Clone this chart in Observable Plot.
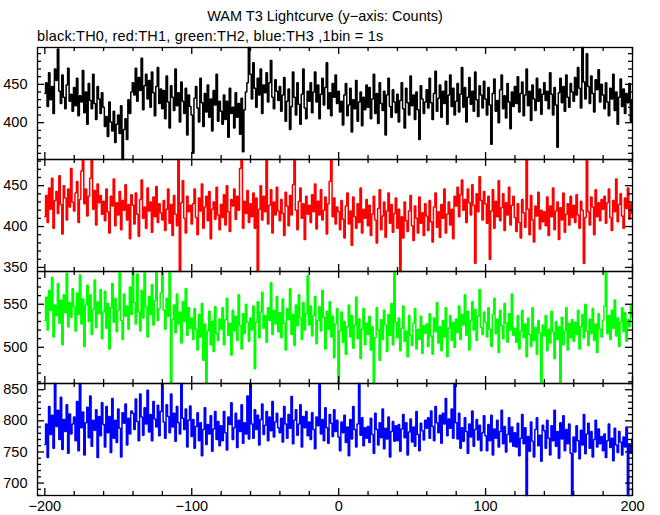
<!DOCTYPE html>
<html><head><meta charset="utf-8">
<script src="https://cdn.jsdelivr.net/npm/d3@7"></script>
<script src="https://cdn.jsdelivr.net/npm/@observablehq/plot@0.6"></script>
<style>
body{margin:0;background:#fff;}
#root{position:relative;width:660px;height:515px;font-family:"Liberation Sans",Arial,sans-serif;color:#000;}
.title{position:absolute;left:0;width:650px;top:9px;text-align:center;font-size:14.5px;line-height:1;}
.sub{position:absolute;left:37px;top:29px;font-size:14.5px;line-height:1;letter-spacing:0.2px;}
.panel{position:absolute;left:0;}
</style></head><body>
<div id="root">
<div class="title">WAM T3 Lightcurve (y−axis: Counts)</div>
<div class="sub">black:TH0, red:TH1, green:TH2, blue:TH3 ,1bin = 1s</div>
</div>
<script>
// time of first bin (s), 1 bin = 1 s
const tStart = -200;
const xTickLabels = [-200, -100, 0, 100, 200];
const th0Ticks = [400, 450];
const th1Ticks = [350, 400, 450];
const th2Ticks = [500, 550];
const th3Ticks = [700, 750, 800, 850];
const seriesColors = ["#000000", "#ff0000", "#00ff00", "#0000ff"];

const th0 = [
438,452,421,465,430,447,412,470,455,496,441,425,462,433,418,449,471,428,437,415,
446,422,458,409,435,427,468,413,440,398,451,429,418,463,425,404,447,431,412,439,
420,395,408,382,427,401,389,415,374,398,410,386,422,352,391,405,378,430,412,440,
452,436,471,428,459,442,484,417,448,463,431,455,420,466,439,409,447,472,425,444,
418,442,405,461,427,393,448,433,416,470,422,439,401,453,428,412,445,384,436,421,
410,360,432,447,419,401,458,426,395,438,414,449,407,431,389,442,423,463,402,428,
415,398,436,404,428,381,445,412,420,393,439,407,425,385,432,362,417,440,452,498,
463,431,478,445,420,458,436,470,412,449,439,465,427,452,481,433,418,456,441,429,
447,415,436,459,402,428,444,391,421,466,433,410,452,424,398,437,470,419,405,441,
428,452,413,440,466,427,449,405,437,458,423,446,478,418,439,409,451,433,462,425,
441,414,428,397,436,451,409,423,445,388,430,418,455,402,427,440,396,433,417,449,
420,446,405,431,463,412,438,399,452,425,416,441,384,436,458,421,407,443,427,413,
437,401,429,452,418,393,445,426,410,461,422,436,404,440,417,378,448,431,412,427,
443,419,458,426,404,438,467,415,432,449,407,441,425,454,398,436,462,421,445,410,
428,451,414,437,472,420,446,401,433,459,424,441,415,466,430,408,448,436,419,454,
431,410,446,423,372,438,457,415,429,400,443,462,418,435,406,451,427,392,440,421,
447,425,460,414,438,453,409,436,470,422,441,403,449,431,416,458,428,444,411,437,
452,429,441,418,465,437,410,446,423,368,439,458,426,447,415,462,433,420,451,440,
428,459,436,472,445,419,498,453,431,490,447,425,461,438,414,456,443,469,427,450,
436,418,452,427,409,445,431,463,416,440,398,433,457,421,444,412,438,426,451,402,430];

const th1 = [
412,438,405,447,421,459,398,432,443,416,462,427,391,450,435,408,446,424,471,430,
419,441,455,405,433,468,482,428,446,413,437,459,482,421,444,402,452,429,438,415,
431,407,446,418,392,437,425,458,401,429,414,443,396,432,420,451,408,427,385,439,
426,403,441,415,388,433,457,410,424,398,447,419,430,393,436,412,449,405,428,417,
408,432,395,421,446,404,427,389,438,415,401,482,345,429,456,410,392,437,418,426,
403,428,446,411,390,435,419,452,398,424,437,407,443,385,421,430,409,448,414,396,
427,411,439,402,450,418,394,433,425,446,409,437,420,471,482,398,431,416,444,405,
428,412,441,398,435,345,421,450,408,437,418,482,403,426,445,392,430,414,448,419,
407,433,416,389,442,425,401,438,414,451,482,420,396,431,447,410,428,384,437,415,
426,405,439,418,452,397,431,414,445,408,420,436,391,428,455,482,412,435,403,424,
418,396,432,409,386,425,441,403,419,377,436,412,398,428,405,447,392,421,410,433,
401,426,389,415,437,408,380,422,445,396,413,430,387,419,441,404,427,393,416,435,
398,421,345,412,386,430,407,394,419,438,401,383,425,410,392,436,404,417,389,428,
413,395,432,406,381,424,441,399,418,387,427,410,446,392,415,430,402,421,385,437,
425,448,412,439,457,420,433,405,446,429,414,451,426,355,440,418,461,432,408,443,
428,404,437,360,419,445,398,431,412,456,407,423,440,395,429,414,448,402,426,437,
411,394,428,405,386,433,417,399,482,421,390,438,408,381,425,413,442,397,420,406,
418,401,436,389,425,412,447,396,419,430,384,423,408,441,393,415,428,402,437,411,
426,405,439,414,398,431,420,355,411,482,418,402,436,424,390,445,412,429,407,433,
421,437,404,429,446,411,395,432,418,458,406,427,440,413,398,435,422,447,409,428,416];

const th2 = [
531,558,520,566,543,581,512,549,537,574,528,555,503,561,540,586,524,552,535,568,
547,519,563,538,584,527,556,501,549,572,530,561,515,544,578,523,553,539,567,510,
541,565,522,551,498,546,574,529,557,518,543,587,531,509,562,536,548,521,570,538,
588,552,527,585,541,519,566,534,588,547,512,559,538,573,526,554,588,531,545,563,
588,543,521,557,536,588,458,532,549,517,562,527,541,505,553,530,568,514,546,522,
534,509,545,521,497,538,512,551,485,527,458,519,542,503,530,495,547,516,508,533,
521,546,503,532,557,514,528,491,543,519,536,508,561,525,498,539,516,550,529,507,
534,520,548,475,529,553,511,541,564,522,537,506,546,531,575,515,543,527,559,518,
540,511,556,528,497,545,532,568,515,538,502,549,525,561,534,509,552,520,539,583,
526,548,513,537,559,504,531,547,519,566,535,498,542,521,553,512,536,488,527,545,
458,519,541,506,530,492,524,549,512,537,499,526,558,510,533,487,521,545,503,528,
515,536,497,524,458,511,546,520,485,532,509,543,526,495,538,514,551,503,588,529,
511,534,496,522,548,507,519,489,537,514,502,528,545,498,521,509,536,493,525,516,
527,501,539,513,492,534,518,552,505,524,496,531,512,546,489,522,537,508,529,500,
533,517,548,509,538,526,561,514,542,497,531,553,520,544,508,536,567,523,515,541,
529,512,546,521,501,538,557,516,533,494,543,525,510,551,528,506,539,520,562,514,
522,506,537,498,519,543,511,527,489,534,515,501,546,508,523,492,531,517,458,526,
513,537,496,521,505,542,518,487,530,509,524,458,535,503,519,546,497,528,511,532,
507,529,515,543,498,524,538,511,550,519,502,533,516,545,508,527,494,539,521,512,
531,548,588,516,537,509,543,522,555,513,534,501,529,546,518,540,507,532,524,549,535];

const th3 = [
762,795,741,823,778,809,756,860,791,817,770,838,754,802,783,826,748,811,779,795,
806,768,831,752,860,789,814,745,797,822,773,840,759,801,785,818,741,807,776,829,
794,758,823,781,807,749,836,772,801,765,819,788,742,813,796,827,761,804,779,816,
812,786,835,799,768,843,806,777,821,795,849,782,810,768,831,803,790,825,776,815,
860,798,772,826,807,781,843,790,812,767,823,797,779,860,804,786,819,758,801,824,
775,802,756,791,813,768,797,744,786,821,762,794,779,808,751,787,815,770,799,760,
792,768,815,781,753,806,794,829,770,789,812,757,801,783,826,764,797,779,840,771,
860,795,772,818,786,809,761,802,827,778,793,815,768,806,784,831,774,798,812,789,
781,804,766,823,795,772,810,788,839,763,801,818,777,795,826,758,807,789,815,776,
798,770,813,786,755,806,792,860,779,802,768,821,789,764,810,796,775,818,783,801,
774,752,798,781,809,765,790,744,802,771,823,786,758,795,860,777,805,760,789,772,
791,765,804,778,748,812,786,761,797,773,819,755,788,771,806,742,783,799,767,792,
768,794,751,787,810,773,797,745,782,803,766,790,759,815,778,752,796,784,769,801,
788,805,772,816,791,768,823,797,781,809,764,812,795,836,776,803,788,819,772,860,
797,771,812,756,789,767,805,783,748,795,774,816,759,786,802,769,793,752,781,808,
776,752,794,768,809,745,787,772,801,758,783,817,763,791,750,778,805,766,790,759,
781,758,796,744,772,810,763,789,680,775,751,798,767,742,786,805,760,777,735,793,
784,756,801,772,745,792,768,817,759,783,740,797,771,808,752,786,763,795,748,680,
774,750,792,768,739,785,761,810,747,779,796,756,783,742,770,801,758,787,763,775,
752,779,741,768,795,757,772,736,788,761,749,783,766,745,774,758,790,680,763,748,771];

const PANEL_TOP = 47, PANEL_H = 112, LEFT = 37, RIGHT = 632, W = 660;
const fw = RIGHT - LEFT, fh = PANEL_H;
const xMinor = d3.range(-200, 201, 20);
const fmt = d => d < 0 ? "\u2212" + Math.abs(d) : String(d);

function panel(values, color, yLabels, index, isBottom) {
  const data = values.map((v, i) => ({t: tStart + i, c: v}));
  const dom = d3.extent(values);
  const yMinor = d3.range(Math.ceil(dom[0] / 10) * 10, dom[1] + 0.001, 10);
  const yMaj = yMinor.filter(v => v % 50 === 0);
  const yMin = yMinor.filter(v => v % 50 !== 0);
  const xMaj = xMinor.filter(v => v % 100 === 0);
  const xMin = xMinor.filter(v => v % 100 !== 0);
  const mb = isBottom ? 22 : 0;
  const majL = 7, minL = 4;
  const tk = {stroke: "black", strokeWidth: 1.3};
  const marks = [
    Plot.line(data, {x: "t", y: "c", stroke: color, strokeWidth: 1.5, curve: "step", strokeLinejoin: "miter"}),
    Plot.tickX(xMaj, {x: d => d, insetTop: fh - majL, ...tk}),
    Plot.tickX(xMin, {x: d => d, insetTop: fh - minL, ...tk}),
    Plot.tickX(xMaj, {x: d => d, insetBottom: fh - majL, ...tk}),
    Plot.tickX(xMin, {x: d => d, insetBottom: fh - minL, ...tk}),
    Plot.tickY(yMaj, {y: d => d, insetRight: fw - majL, ...tk}),
    Plot.tickY(yMin, {y: d => d, insetRight: fw - minL, ...tk}),
    Plot.tickY(yMaj, {y: d => d, insetLeft: fw - majL, ...tk}),
    Plot.tickY(yMin, {y: d => d, insetLeft: fw - minL, ...tk}),
    Plot.frame({stroke: "black", strokeWidth: 1.3}),
    Plot.axisY(yLabels, {anchor: "left", tickSize: 0, tickPadding: 10, fontSize: 14.5, label: null})
  ];
  if (isBottom) marks.push(Plot.axisX(xTickLabels, {anchor: "bottom", tickSize: 0, tickPadding: 5, fontSize: 14.5, tickFormat: fmt, label: null}));
  const svg = Plot.plot({
    width: W,
    height: fh + 1 + mb,
    marginLeft: LEFT, marginRight: W - RIGHT, marginTop: 1, marginBottom: mb,
    x: {domain: [-205, 200], axis: isBottom ? undefined : null, label: null},
    y: {domain: dom, label: null},
    style: {fontFamily: "Liberation Sans, Arial, sans-serif", fontSize: "14.5px", background: "transparent", overflow: "visible", color: "black"},
    marks
  });
  const wrap = document.createElement("div");
  wrap.className = "panel";
  wrap.style.top = (PANEL_TOP + index * PANEL_H - 1) + "px";
  wrap.appendChild(svg);
  document.getElementById("root").appendChild(wrap);
}

panel(th0, seriesColors[0], th0Ticks, 0, false);
panel(th1, seriesColors[1], th1Ticks, 1, false);
panel(th2, seriesColors[2], th2Ticks, 2, false);
panel(th3, seriesColors[3], th3Ticks, 3, true);
</script>
</body></html>
